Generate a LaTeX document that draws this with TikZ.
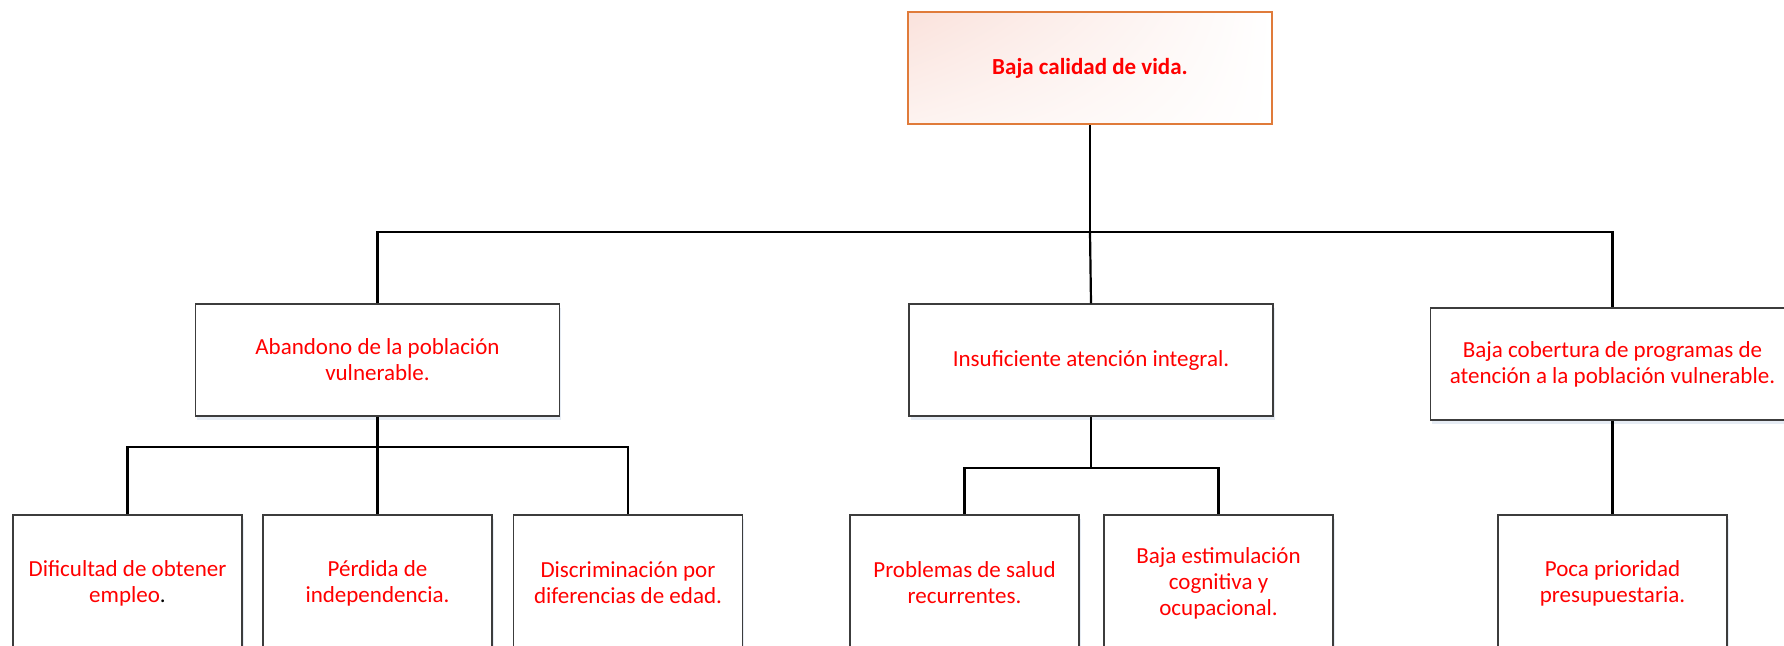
\documentclass[tikz,border=0pt]{standalone}
\usepackage{fontspec}
\setmainfont{Carlito}
\usetikzlibrary{shadows,shadings}
\definecolor{txtred}{RGB}{255,0,0}
\definecolor{toporange}{RGB}{224,123,58}
\definecolor{pinkA}{RGB}{250,226,220}
\definecolor{pinkB}{RGB}{253,243,240}
\definecolor{boxline}{RGB}{60,60,60}
\definecolor{shadowblue}{RGB}{200,213,230}
\begin{document}
\begin{tikzpicture}[x=0.5pt,y=-0.5pt,
  box/.style={draw=boxline, line width=0.75pt, fill=white, text=txtred, align=center,
    inner sep=0pt, font=\fontsize{11.5}{13}\selectfont,
    drop shadow={shadow xshift=0.8pt, shadow yshift=-2pt, fill=shadowblue, opacity=0.45}},
  topbox/.style={draw=toporange, line width=1pt, text=txtred, align=center, inner sep=0pt,
    font=\fontsize{11.5}{13}\selectfont\bfseries,
    upper left=pinkA, upper right=white, lower left=pinkB, lower right=white},
  midbox/.style={box, minimum width=182pt, minimum height=56pt},
  lowbox/.style={box, minimum width=114.5pt, minimum height=68pt},
  link/.style={draw=black, line width=1.1pt}
]
\useasboundingbox (0,0) rectangle (1784,645);
\clip (0,0) rectangle (1784,645);

\node[topbox, minimum width=182pt, minimum height=56pt] (top) at (1090,68) {Baja calidad de vida.};

\node[midbox] (m1) at (377.5,360) {Abandono de la población\\vulnerable.};
\node[midbox] (m2) at (1091,360) {Insuficiente atención integral.};
\node[midbox] (m3) at (1612.5,364) {Baja cobertura de programas de\\atención a la población vulnerable.};

\node[lowbox] (b1) at (127.5,583) {Dificultad de obtener\\empleo{\color{black}.}};
\node[lowbox] (b2) at (377.5,583) {Pérdida de\\independencia.};
\node[lowbox] (b3) at (628,583) {Discriminación por\\diferencias de edad.};
\node[lowbox] (b4) at (964.5,583) {Problemas de salud\\recurrentes.};
\node[lowbox] (b5) at (1218.5,583) {Baja estimulación\\cognitiva y\\ocupacional.};
\node[lowbox] (b6) at (1612.5,583) {Poca prioridad\\presupuestaria.};

\coordinate (busA) at (0,232);
\coordinate (busB) at (0,447);
\coordinate (busC) at (0,468);

\draw[link] (top.south) -- (top.south |- busA) -| (m1.north);
\draw[link] (top.south |- busA) -| (m3.north);
\draw[link] (top.south |- busA) -- (m2.north);

\draw[link] (m1.south) -- (m1.south |- busB) -| (b1.north);
\draw[link] (m1.south |- busB) -| (b3.north);
\draw[link] (m1.south |- busB) -- (b2.north);

\draw[link] (m2.south) -- (m2.south |- busC) -| (b4.north);
\draw[link] (m2.south |- busC) -| (b5.north);

\draw[link] (m3.south) -- (b6.north);
\end{tikzpicture}
\end{document}
